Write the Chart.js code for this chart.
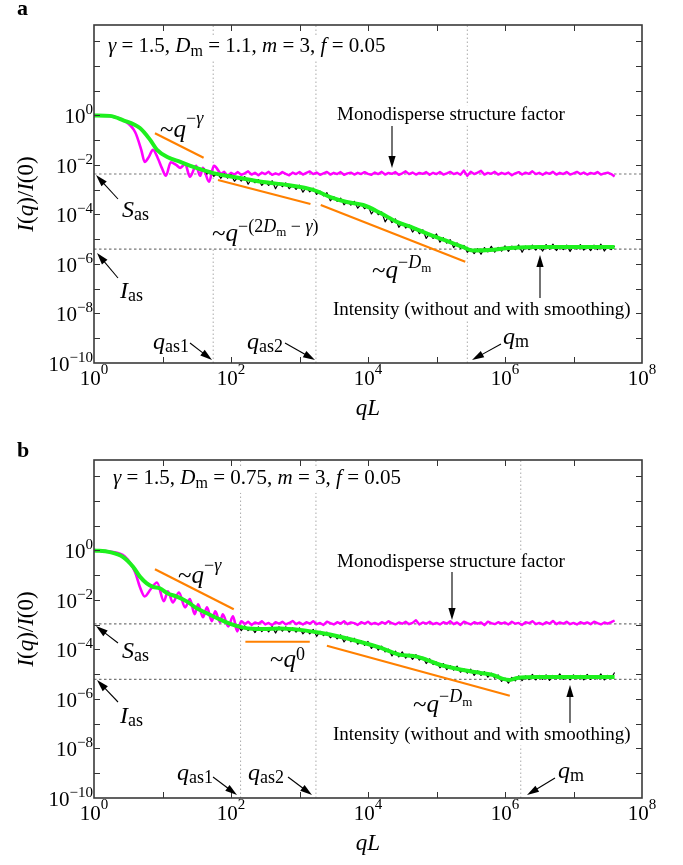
<!DOCTYPE html>
<html>
<head>
<meta charset="utf-8">
<script src="https://cdn.jsdelivr.net/npm/chart.js@4/dist/chart.umd.min.js"></script>
<style>
  body { margin: 0; background: #fff; }
  canvas { display: block; }
</style>
</head>
<body>
<canvas id="plot-a" width="683" height="432"></canvas>
<canvas id="plot-b" width="683" height="433"></canvas>
<script>
// all values are log10 exponents: x = log10(qL), y = log10(I(q)/I(0))

// shared qL grid for the noisy traces
const noiseX = [
  1.60, 1.65, 1.70, 1.75, 1.80, 1.85, 1.90, 1.95,
  2.00, 2.05, 2.10, 2.15, 2.20, 2.25, 2.30, 2.35, 2.40, 2.45, 2.50, 2.55, 2.60, 2.65, 2.70, 2.75, 2.80, 2.85, 2.90, 2.95,
  3.00, 3.05, 3.10, 3.15, 3.20, 3.25, 3.30, 3.35, 3.40, 3.45, 3.50, 3.55, 3.60, 3.65, 3.70, 3.75, 3.80, 3.85, 3.90, 3.95,
  4.00, 4.05, 4.10, 4.15, 4.20, 4.25, 4.30, 4.35, 4.40, 4.45, 4.50, 4.55, 4.60, 4.65, 4.70, 4.75, 4.80, 4.85, 4.90, 4.95,
  5.00, 5.05, 5.10, 5.15, 5.20, 5.25, 5.30, 5.35, 5.40, 5.45, 5.50, 5.55, 5.60, 5.65, 5.70, 5.75, 5.80, 5.85, 5.90, 5.95,
  6.00, 6.05, 6.10, 6.15, 6.20, 6.25, 6.30, 6.35, 6.40, 6.45, 6.50, 6.55, 6.60, 6.65, 6.70, 6.75, 6.80, 6.85, 6.90, 6.95,
  7.00, 7.05, 7.10, 7.15, 7.20, 7.25, 7.30, 7.35, 7.40, 7.45, 7.50, 7.55, 7.60,
]

// ---- panel a ----
const greenAX = [0, 0.23, 0.42, 0.67, 0.82, 0.92, 1.07, 1.26, 1.45, 1.74, 2.13, 2.47, 2.82, 3.20, 3.45,
  3.69, 3.93, 4.18, 4.42, 4.66, 4.91, 5.15, 5.39, 5.53, 5.78, 6.07, 6.51, 7.60]
const greenAY = [0, -0.02, -0.19, -0.51, -0.99, -1.39, -1.68, -1.88, -2.08, -2.33, -2.53, -2.69, -2.81, -3.01, -3.30,
  -3.50, -3.62, -3.94, -4.30, -4.54, -4.83, -5.07, -5.32, -5.46, -5.44, -5.36, -5.32, -5.32]

const blackAStart = 1.60
const blackAY = [
  -2.14, -2.37, -2.25, -2.46, -2.33, -2.54, -2.36, -2.53,
  -2.39, -2.66, -2.49, -2.65, -2.47, -2.78, -2.56, -2.72, -2.59, -2.83, -2.67, -2.83, -2.64, -2.96, -2.72, -2.88, -2.73, -2.96, -2.82, -2.99,
  -2.82, -3.10, -2.91, -3.09, -2.94, -3.19, -3.06, -3.25, -3.12, -3.45, -3.28, -3.47, -3.34, -3.61, -3.46, -3.62, -3.47, -3.75, -3.58, -3.77,
  -3.64, -3.98, -3.79, -4.01, -3.90, -4.30, -4.09, -4.33, -4.18, -4.52, -4.33, -4.55, -4.42, -4.71, -4.54, -4.78, -4.62, -4.97, -4.77, -4.97,
  -4.79, -5.12, -4.94, -5.16, -5.02, -5.34, -5.15, -5.37, -5.25, -5.53, -5.39, -5.58, -5.38, -5.61, -5.34, -5.51, -5.29, -5.52, -5.33, -5.48,
  -5.27, -5.49, -5.28, -5.42, -5.23, -5.53, -5.28, -5.42, -5.24, -5.44, -5.26, -5.48, -5.22, -5.40, -5.20, -5.46, -5.28, -5.42, -5.24, -5.50,
  -5.26, -5.40, -5.22, -5.44, -5.26, -5.46, -5.24, -5.42, -5.20, -5.48, -5.26, -5.42, -5.28,
]

const magentaALowX = [0, 0.23, 0.45, 0.60, 0.69, 0.74, 0.80, 0.86, 0.93, 0.99, 1.05, 1.12, 1.20, 1.26, 1.33,
  1.40, 1.49, 1.55, 1.59, 1.68, 1.75, 1.85]
const magentaALowY = [0, -0.03, -0.23, -0.67, -1.39, -1.88, -1.68, -1.39, -1.72, -2.12, -2.44, -1.89, -2.00, -2.12, -1.96,
  -2.48, -2.04, -2.44, -2.12, -2.68, -2.04, -2.37]
const magentaAStart = 1.85
const magentaAY = [
  -2.37, -2.28, -2.44,
  -2.32, -2.39, -2.29, -2.40, -2.34, -2.26, -2.39, -2.32, -2.42, -2.31, -2.37, -2.28, -2.40, -2.34, -2.39, -2.29, -2.36, -2.42, -2.31, -2.37,
  -2.29, -2.39, -2.32, -2.26, -2.37, -2.31, -2.40, -2.34, -2.28, -2.39, -2.32, -2.37, -2.29, -2.40, -2.34, -2.31, -2.39, -2.32, -2.37, -2.29,
  -2.36, -2.40, -2.31, -2.37, -2.28, -2.39, -2.32, -2.36, -2.29, -2.40, -2.34, -2.26, -2.37, -2.31, -2.39, -2.32, -2.36, -2.29, -2.40, -2.32,
  -2.37, -2.29, -2.39, -2.34, -2.28, -2.37, -2.32, -2.40, -2.23, -2.44, -2.28, -2.37, -2.31, -2.24, -2.39, -2.32, -2.36, -2.28, -2.39, -2.32,
  -2.37, -2.31, -2.42, -2.34, -2.29, -2.39, -2.31, -2.36, -2.26, -2.37, -2.32, -2.40, -2.31, -2.36, -2.28, -2.39, -2.32, -2.37, -2.29, -2.39,
  -2.34, -2.28, -2.37, -2.31, -2.39, -2.32, -2.36, -2.29, -2.39, -2.34, -2.31, -2.37, -2.47,
]

const orangeA = [
  {x: [0.89, 1.60], y: [-0.72, -1.71]},
  {x: [1.81, 3.16], y: [-2.61, -3.58]},
  {x: [3.31, 5.42], y: [-3.62, -5.91]},
]
const levelsA = [-2.37, -5.40]        // S_as, I_as
const qMarksA = [1.74, 3.24, 5.45]    // q_as1, q_as2, q_m

// ---- panel b ----
const greenBX = [0, 0.23, 0.42, 0.57, 0.67, 0.77, 0.86, 0.96, 1.07, 1.21, 1.36, 1.50, 1.65, 1.80, 1.99,
  2.18, 2.47, 2.72, 3.01, 3.30, 3.59, 3.88, 4.18, 4.47, 4.66, 4.86, 5.05, 5.39, 5.64, 5.82,
  5.97, 6.07, 6.18, 6.47, 7.60]
const greenBY = [0, -0.07, -0.26, -0.66, -1.06, -1.33, -1.47, -1.53, -1.73, -1.87, -2.07, -2.34, -2.54, -2.74, -2.97,
  -3.12, -3.18, -3.15, -3.21, -3.33, -3.49, -3.69, -3.93, -4.22, -4.26, -4.42, -4.62, -4.83, -4.95, -5.03,
  -5.19, -5.23, -5.15, -5.11, -5.11]

const blackBStart = 2.10
const blackBY = [
  -3.00, -3.24, -3.05, -3.24, -3.11, -3.32, -3.09, -3.28, -3.12, -3.29, -3.08, -3.34, -3.09, -3.26, -3.09, -3.30, -3.13, -3.30,
  -3.13, -3.37, -3.21, -3.37, -3.19, -3.47, -3.27, -3.44, -3.30, -3.53, -3.40, -3.57, -3.41, -3.70, -3.50, -3.69, -3.55, -3.79, -3.64, -3.84,
  -3.68, -3.96, -3.81, -4.03, -3.87, -4.10, -3.99, -4.26, -4.07, -4.30, -4.10, -4.35, -4.19, -4.40, -4.21, -4.43, -4.31, -4.57, -4.38, -4.61,
  -4.51, -4.74, -4.57, -4.82, -4.65, -4.84, -4.67, -4.92, -4.79, -4.96, -4.80, -5.05, -4.87, -5.05, -4.90, -5.12, -4.96, -5.16, -5.03, -5.29,
  -5.16, -5.36, -5.13, -5.27, -5.07, -5.26, -5.07, -5.22, -5.01, -5.23, -5.05, -5.21, -5.03, -5.25, -5.05, -5.19, -4.99, -5.21, -5.07, -5.23,
  -5.03, -5.19, -5.05, -5.23, -5.01, -5.21, -5.07, -5.19, -4.99, -5.23, -5.05, -5.17, -4.93,
]

const magentaBLowX = [0, 0.23, 0.45, 0.60, 0.67, 0.74, 0.83, 0.92, 1.02, 1.08, 1.15, 1.24, 1.33, 1.40, 1.47,
  1.52, 1.59, 1.65, 1.72, 1.77, 1.84, 1.88, 1.96, 2.03, 2.09, 2.15, 2.20]
const magentaBLowY = [0, -0.05, -0.25, -0.88, -1.48, -1.86, -1.56, -1.30, -2.05, -1.65, -2.10, -1.70, -2.30, -1.97, -2.58,
  -2.18, -2.70, -2.30, -2.86, -2.46, -2.90, -2.58, -3.07, -2.66, -3.27, -2.86, -2.98]
const magentaBStart = 2.20
const magentaBY = [
  -2.98, -2.88, -3.01, -2.91, -2.96, -2.86, -2.99, -2.93, -3.02, -2.90, -2.96, -2.88, -2.99, -2.93, -2.85, -2.98,
  -2.91, -2.99, -2.90, -2.96, -2.86, -2.98, -2.93, -3.01, -2.88, -2.94, -2.99, -2.90, -2.96, -2.86, -2.98, -2.91, -2.94, -3.01, -2.90, -2.96,
  -2.88, -2.98, -2.93, -2.99, -2.90, -2.96, -2.86, -2.94, -2.99, -2.91, -2.96, -2.88, -2.98, -2.93, -2.82, -2.99, -2.91, -2.96, -2.88, -2.98,
  -2.93, -2.99, -2.90, -2.96, -2.86, -2.98, -2.91, -3.01, -2.88, -2.94, -2.99, -2.90, -2.96, -2.91, -3.02, -2.88, -2.94, -2.98, -2.90, -2.96,
  -2.91, -2.99, -2.88, -2.96, -2.93, -3.01, -2.90, -2.94, -2.86, -2.98, -2.93, -2.99, -2.90, -2.96, -2.85, -2.98, -2.91, -2.96, -2.88, -2.98,
  -2.93, -2.99, -2.90, -2.96, -2.91, -2.98, -2.88, -2.94, -2.99, -2.91, -2.96, -2.90, -2.83,
]

const orangeB = [
  {x: [0.89, 2.04], y: [-0.76, -2.38]},
  {x: [2.21, 3.15], y: [-3.69, -3.69]},
  {x: [3.40, 6.07], y: [-3.85, -5.87]},
]
const levelsB = [-2.97, -5.21]
const qMarksB = [2.14, 3.24, 6.23]

// axis
const xRange = [0, 8]
const yRange = [-10, 3.65]
const xLabelExps = [0, 2, 4, 6, 8]
const yLabelExps = [0, -2, -4, -6, -8, -10]


function pairs(xs, ys) {
    return ys.map(function (y, i) {return {x: Math.pow(10, xs[i]), y: Math.pow(10, y)}})
}

function onGrid(start, ys) {
    return pairs(noiseX.slice(noiseX.indexOf(start)), ys)
}

function trace(points, color, width, order, extra) {
    return Object.assign({
        data: points,
        borderColor: color,
        borderWidth: width,
        pointRadius: 0,
        fill: false,
        tension: 0,
        borderJoinStyle: 'round',
        order: order,
    }, extra || {})
}

const SERIF = '"Liberation Serif", "Times New Roman", serif'
function fontOf(size, style) {
    return (style === 'i' ? 'italic ' : style === 'b' ? 'bold ' : '') + size + 'px ' + SERIF
}

function drawRich(ctx, x, y, parts, align, bg) {
    let w = 0, top = y, bottom = y
    parts.forEach(function (p) {
        ctx.font = fontOf(p[1], p[2])
        w += ctx.measureText(p[0]).width
        top = Math.min(top, y + (p[3] || 0) - 0.72 * p[1])
        bottom = Math.max(bottom, y + (p[3] || 0) + 0.24 * p[1])
    })
    let cx = align === 'right' ? x - w : align === 'center' ? x - w / 2 : x
    if (bg) {
        ctx.fillStyle = '#fff'
        ctx.fillRect(cx - 2, top - 1, w + 4, bottom - top + 2)
    }
    ctx.fillStyle = '#000'
    ctx.textBaseline = 'alphabetic'
    ctx.textAlign = 'left'
    parts.forEach(function (p) {
        ctx.font = fontOf(p[1], p[2])
        ctx.fillText(p[0], cx, y + (p[3] || 0))
        cx += ctx.measureText(p[0]).width
    })
}

function arrow(ctx, x1, y1, x2, y2) {
    const a = Math.atan2(y2 - y1, x2 - x1), L = 12, W = 3.6
    ctx.strokeStyle = '#000'
    ctx.lineWidth = 1.1
    ctx.beginPath()
    ctx.moveTo(x1, y1)
    ctx.lineTo(x2 - L * 0.8 * Math.cos(a), y2 - L * 0.8 * Math.sin(a))
    ctx.stroke()
    ctx.fillStyle = '#000'
    ctx.beginPath()
    ctx.moveTo(x2, y2)
    ctx.lineTo(x2 - L * Math.cos(a) + W * Math.sin(a), y2 - L * Math.sin(a) - W * Math.cos(a))
    ctx.lineTo(x2 - L * Math.cos(a) - W * Math.sin(a), y2 - L * Math.sin(a) + W * Math.cos(a))
    ctx.closePath()
    ctx.fill()
}

function sup(e) {
    return e < 0 ? '\u2212' + (-e) : String(e)
}

const TILDE_Q = [['~', 25, 'n'], ['q', 25, 'i']]
function sub(main, s) {
    return [[main, 24, 'i'], [s, 18, 'n', 3]]
}

function makeFrame(panel) {
    return {
        id: 'frame',
        afterDraw(chart) {
            const ctx = chart.ctx
            const ca = chart.chartArea
            const xs = chart.scales.x, ys = chart.scales.y
            ctx.save()

            // inward ticks on every decade
            ctx.strokeStyle = '#333'
            ctx.lineWidth = 1
            ctx.beginPath()
            for (let e = xRange[0] + 1; e < xRange[1]; e++) {
                const px = Math.round(xs.getPixelForValue(Math.pow(10, e))) + 0.5
                ctx.moveTo(px, ca.top); ctx.lineTo(px, ca.top + 6)
                ctx.moveTo(px, ca.bottom); ctx.lineTo(px, ca.bottom - 6)
            }
            for (let e = -9; e <= 3; e++) {
                const py = Math.round(ys.getPixelForValue(Math.pow(10, e))) + 0.5
                ctx.moveTo(ca.left, py); ctx.lineTo(ca.left + 6, py)
                ctx.moveTo(ca.right, py); ctx.lineTo(ca.right - 6, py)
            }
            ctx.stroke()

            // annotations
            panel.notes.forEach(function (n) {
                drawRich(ctx, ca.left + n.at[0], ca.top + n.at[1], n.parts, 'left', n.bg)
            })
            panel.arrows.forEach(function (a) {
                arrow(ctx, ca.left + a[0], ca.top + a[1], ca.left + a[2], ca.top + a[3])
            })

            // box
            ctx.strokeStyle = '#3a3a3a'
            ctx.lineWidth = 1.6
            ctx.strokeRect(ca.left, ca.top, ca.right - ca.left, ca.bottom - ca.top)

            // tick labels
            xLabelExps.forEach(function (e) {
                drawRich(ctx, xs.getPixelForValue(Math.pow(10, e)), ca.bottom + 22,
                    [['10', 21, 'n'], [sup(e), 15, 'n', -11]], 'center')
            })
            yLabelExps.forEach(function (e) {
                drawRich(ctx, ca.left - 1, ys.getPixelForValue(Math.pow(10, e)) + 8,
                    [['10', 21, 'n'], [sup(e), 15, 'n', -9]], 'right')
            })

            // axis titles
            drawRich(ctx, (ca.left + ca.right) / 2, ca.bottom + 52, [['q', 23, 'i'], ['L', 23, 'i']], 'center')
            ctx.save()
            ctx.translate(ca.left - 61, (ca.top + ca.bottom) / 2)
            ctx.rotate(-Math.PI / 2)
            drawRich(ctx, 0, 0, [['I', 23, 'i'], ['(', 23, 'n'], ['q', 23, 'i'], [')/', 23, 'n'],
                ['I', 23, 'i'], ['(0)', 23, 'n']], 'center')
            ctx.restore()

            // panel letter
            drawRich(ctx, 17, panel.letterY, [[panel.letter, 22, 'b']])
            ctx.restore()
        },
    }
}

function buildDatasets(d) {
    const sets = []
    d.levels.forEach(function (v) {
        sets.push(trace([{x: Math.pow(10, xRange[0]), y: Math.pow(10, v)}, {x: Math.pow(10, xRange[1]), y: Math.pow(10, v)}],
            '#777', 1.1, 9, {borderDash: [2.5, 2.5]}))
    })
    d.qMarks.forEach(function (v) {
        sets.push(trace([{x: Math.pow(10, v), y: Math.pow(10, yRange[0])}, {x: Math.pow(10, v), y: Math.pow(10, yRange[1])}],
            '#aaa', 1, 9, {borderDash: [1.5, 2.5]}))
    })
    sets.push(trace(pairs(d.magentaLowX, d.magentaLowY), '#ff00ff', 2.6, 6, {cubicInterpolationMode: 'monotone'}))
    sets.push(trace(onGrid(d.magentaStart, d.magentaY), '#ff00ff', 2.4, 6))
    sets.push(trace(onGrid(d.blackStart, d.blackY), '#000', 1.2, 5))
    sets.push(trace(pairs(d.greenX, d.greenY), '#1ef01e', 4, 4, {cubicInterpolationMode: 'monotone'}))
    d.orange.forEach(function (o) {
        sets.push(trace(pairs(o.x, o.y), '#ff8000', 2.2, 3))
    })
    return sets
}

function createPlot(canvasId, d, panel, padding) {
    const config = {
        type: 'line',
        data: {datasets: buildDatasets(d)},
        options: {
            responsive: false,
            animation: false,
            devicePixelRatio: 1,
            events: [],
            layout: {padding: padding},
            plugins: {legend: {display: false}, tooltip: {enabled: false}, title: {display: false}},
            scales: {
                x: {type: 'logarithmic', display: false, bounds: 'data',
                    min: Math.pow(10, xRange[0]), max: Math.pow(10, xRange[1])},
                y: {type: 'logarithmic', display: false, bounds: 'data',
                    min: Math.pow(10, yRange[0]), max: Math.pow(10, yRange[1])},
            },
        },
        plugins: [makeFrame(panel)],
    }
    return new Chart(document.querySelector('#' + canvasId), config)
}

const panelA = {
    letter: 'a', letterY: 15,
    notes: [
        {at: [14, 26.5], bg: true, parts: [['\u03b3', 21, 'i'], [' = 1.5, ', 21, 'n'], ['D', 21, 'i'], ['m', 16, 'n', 4],
            [' = 1.1, ', 21, 'n'], ['m', 21, 'i'], [' = 3, ', 21, 'n'], ['f', 21, 'i'], [' = 0.05', 21, 'n']]},
        {at: [243, 95], bg: true, parts: [['Monodisperse structure factor', 19, 'n']]},
        {at: [239, 290], bg: true, parts: [['Intensity (without and with smoothing)', 19, 'n']]},
        {at: [28, 192], parts: sub('S', 'as')},
        {at: [26, 273], parts: sub('I', 'as')},
        {at: [59, 324], parts: sub('q', 'as1')},
        {at: [153, 324], parts: sub('q', 'as2')},
        {at: [409, 319], parts: sub('q', 'm')},
        {at: [66, 112], parts: TILDE_Q.concat([['\u2212', 18, 'n', -13], ['\u03b3', 18, 'i', -13]])},
        {at: [118, 216], bg: true, parts: TILDE_Q.concat([['\u2212(2', 18, 'n', -9], ['D', 18, 'i', -9], ['m', 13, 'n', -5],
            [' \u2212 ', 18, 'n', -9], ['\u03b3', 18, 'i', -9], [')', 18, 'n', -9]])},
        {at: [278, 253], parts: TILDE_Q.concat([['\u2212', 18, 'n', -10], ['D', 18, 'i', -10], ['m', 13, 'n', -6]])},
    ],
    arrows: [[298, 101, 298, 143], [446, 273, 446, 230], [24, 174, 2, 150], [24, 253, 3, 228],
        [96, 318, 118, 335], [191, 318, 221, 335], [407, 319, 378, 335]],
}

const panelB = {
    letter: 'b', letterY: 25,
    notes: [
        {at: [19, 24], bg: true, parts: [['\u03b3', 21, 'i'], [' = 1.5, ', 21, 'n'], ['D', 21, 'i'], ['m', 16, 'n', 4],
            [' = 0.75, ', 21, 'n'], ['m', 21, 'i'], [' = 3, ', 21, 'n'], ['f', 21, 'i'], [' = 0.05', 21, 'n']]},
        {at: [243, 107], bg: true, parts: [['Monodisperse structure factor', 19, 'n']]},
        {at: [239, 280], bg: true, parts: [['Intensity (without and with smoothing)', 19, 'n']]},
        {at: [28, 198], parts: sub('S', 'as')},
        {at: [26, 263], parts: sub('I', 'as')},
        {at: [83, 320], parts: sub('q', 'as1')},
        {at: [154, 320], parts: sub('q', 'as2')},
        {at: [464, 318], parts: sub('q', 'm')},
        {at: [84, 123], parts: TILDE_Q.concat([['\u2212', 18, 'n', -12], ['\u03b3', 18, 'i', -12]])},
        {at: [176, 207], parts: TILDE_Q.concat([['0', 18, 'n', -7]])},
        {at: [319, 252], parts: TILDE_Q.concat([['\u2212', 18, 'n', -10], ['D', 18, 'i', -10], ['m', 13, 'n', -6]])},
    ],
    arrows: [[358, 112, 358, 160], [476, 263, 476, 225], [24, 183, 2, 166], [24, 242, 3, 220],
        [119, 317, 143, 335], [194, 317, 218, 335], [461, 318, 433, 335]],
}

createPlot('plot-a', {
    greenX: greenAX, greenY: greenAY,
    blackStart: blackAStart, blackY: blackAY,
    magentaLowX: magentaALowX, magentaLowY: magentaALowY,
    magentaStart: magentaAStart, magentaY: magentaAY,
    orange: orangeA, levels: levelsA, qMarks: qMarksA,
}, panelA, {left: 94, right: 41, top: 25, bottom: 69})

createPlot('plot-b', {
    greenX: greenBX, greenY: greenBY,
    blackStart: blackBStart, blackY: blackBY,
    magentaLowX: magentaBLowX, magentaLowY: magentaBLowY,
    magentaStart: magentaBStart, magentaY: magentaBY,
    orange: orangeB, levels: levelsB, qMarks: qMarksB,
}, panelB, {left: 94, right: 41, top: 28, bottom: 67})
</script>
</body>
</html>
